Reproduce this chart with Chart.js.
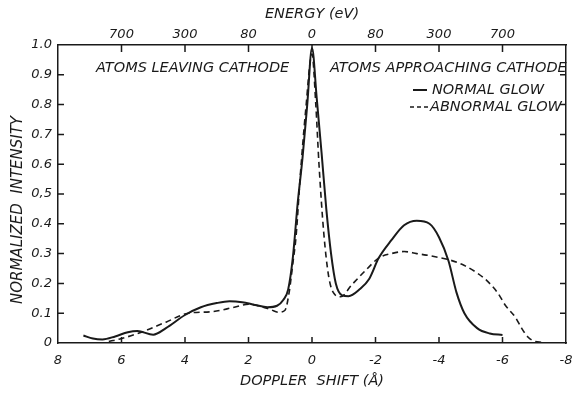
<!DOCTYPE html>
<html>
<head>
<meta charset="utf-8">
<script src="https://cdn.jsdelivr.net/npm/chart.js@4/dist/chart.umd.min.js"></script>
<style>
  html, body { margin: 0; padding: 0; background: #ffffff; }
  #wrap { width: 572px; height: 393px; }
</style>
</head>
<body>
<div id="wrap"><canvas id="chart" width="572" height="393"></canvas></div>
<script>
// Doppler shift (Angstrom) and normalized intensity
const normalShift = [7.2, 6.9, 6.6, 6.2, 5.8, 5.5, 5.0, 4.6, 4.0, 3.5, 3.0, 2.6, 2.2, 1.8, 1.4, 1.1, 0.9, 0.75, 0.6, 0.45, 0.3, 0.15, 0,
    -0.15, -0.3, -0.45, -0.6, -0.75, -0.95, -1.15, -1.5, -1.8, -2.1, -2.5, -2.9, -3.3, -3.7, -4.0, -4.3, -4.55, -4.8, -5.2, -5.6, -6.0];
const normalGlow = [0.025, 0.015, 0.012, 0.022, 0.036, 0.04, 0.028, 0.05, 0.094, 0.12, 0.134, 0.14, 0.137, 0.128, 0.12, 0.125, 0.145, 0.18, 0.29, 0.47, 0.62, 0.80, 0.99,
    0.82, 0.64, 0.45, 0.30, 0.20, 0.16, 0.157, 0.18, 0.215, 0.285, 0.345, 0.395, 0.41, 0.40, 0.355, 0.275, 0.17, 0.10, 0.05, 0.032, 0.027];

const abnormalShift = [6.4, 6.0, 5.35, 4.6, 3.9, 3.15, 2.45, 2.0, 1.66, 1.3, 1.05, 0.85, 0.72, 0.6, 0.5, 0.37, 0.2, 0,
    -0.12, -0.22, -0.37, -0.53, -0.7, -0.9, -1.25, -1.7, -2.1, -2.5, -2.9, -3.3, -3.6, -4.0, -4.3, -4.8, -5.2, -5.5, -5.85, -6.1, -6.4, -6.6, -6.8, -7.0, -7.25];
const abnormalGlow = [0.005, 0.015, 0.037, 0.07, 0.10, 0.105, 0.12, 0.13, 0.124, 0.112, 0.103, 0.11, 0.17, 0.27, 0.36, 0.56, 0.78, 0.97,
    0.80, 0.60, 0.37, 0.22, 0.165, 0.155, 0.195, 0.245, 0.285, 0.30, 0.307, 0.30, 0.295, 0.287, 0.28, 0.26, 0.235, 0.21, 0.168, 0.125, 0.087, 0.05, 0.02, 0.006, 0.002];

// axis ticks
const shiftTicks = [8, 6, 4, 2, 0, -2, -4, -6, -8];
const shiftLabels = ['8', '6', '4', '2', '0', '-2', '-4', '-6', '-8'];
const energyTicks = [6, 4, 2, 0, -2, -4, -6];
const energyLabels = ['700', '300', '80', '0', '80', '300', '700'];
const yTicks = [0, 0.1, 0.2, 0.3, 0.4, 0.5, 0.6, 0.7, 0.8, 0.9, 1.0];
const yLabels = ['0', '0.1', '0.2', '0.3', '0.4', '0,5', '0.6', '0.7', '0.8', '0.9', '1.0'];

const ink = '#1a1a1a';
const fam = '"DejaVu Sans", sans-serif';
const tickFont = { family: fam, size: 13, style: 'italic' };
const titleFont = { family: fam, size: 14.5, style: 'italic' };

function toPoints(xs, ys) {
    return xs.map((x, i) => ({ x: x, y: ys[i] }));
}

// no extra room for the end labels of the horizontal axes
function noSidePadding(s) {
    s.paddingLeft = 0;
    s.paddingRight = 0;
}

// small tick marks pointing into the plot on all four sides
const insideTicks = {
    id: 'insideTicks',
    afterDatasetsDraw(chart) {
        const { ctx, chartArea: a, scales } = chart;
        ctx.save();
        ctx.strokeStyle = ink;
        ctx.lineWidth = 1.5;
        ctx.beginPath();
        yTicks.slice(1, -1).forEach(v => {
            const py = scales.y.getPixelForValue(v);
            ctx.moveTo(a.left, py); ctx.lineTo(a.left + 6, py);
            ctx.moveTo(a.right, py); ctx.lineTo(a.right - 6, py);
        });
        shiftTicks.slice(1, -1).forEach(v => {
            const px = scales.x.getPixelForValue(v);
            ctx.moveTo(px, a.bottom); ctx.lineTo(px, a.bottom - 6);
        });
        energyTicks.forEach(v => {
            const px = scales.x2.getPixelForValue(v);
            ctx.moveTo(px, a.top); ctx.lineTo(px, a.top + 7);
        });
        ctx.stroke();
        ctx.restore();
    }
};

// region labels, legend and the y title
const notes = {
    id: 'notes',
    afterDraw(chart) {
        const { ctx } = chart;
        ctx.save();
        ctx.fillStyle = ink;
        ctx.font = 'italic 14.5px ' + fam;
        ctx.textBaseline = 'middle';
        ctx.textAlign = 'left';
        ctx.fillText('ATOMS LEAVING CATHODE', 96, 68);
        ctx.fillText('ATOMS APPROACHING CATHODE', 330, 68);
        ctx.fillText('NORMAL GLOW', 432, 90);
        ctx.fillText('ABNORMAL GLOW', 430, 107);

        ctx.strokeStyle = ink;
        ctx.lineWidth = 2;
        ctx.beginPath();
        ctx.moveTo(413, 90); ctx.lineTo(427, 90);
        ctx.stroke();
        ctx.lineWidth = 1.5;
        ctx.setLineDash([4, 3]);
        ctx.beginPath();
        ctx.moveTo(410, 107); ctx.lineTo(428, 107);
        ctx.stroke();
        ctx.setLineDash([]);

        ctx.font = 'italic 15px ' + fam;
        ctx.translate(18, 210);
        ctx.rotate(-Math.PI / 2);
        ctx.textAlign = 'center';
        ctx.fillText('NORMALIZED  INTENSITY', 0, 0);
        ctx.restore();
    }
};

const chart = new Chart(document.getElementById('chart').getContext('2d'), {
    type: 'scatter',
    data: {
        datasets: [{
            label: 'NORMAL GLOW',
            data: toPoints(normalShift, normalGlow),
            showLine: true,
            borderColor: ink,
            borderWidth: 2,
            pointRadius: 0,
            cubicInterpolationMode: 'monotone',
            xAxisID: 'x',
            yAxisID: 'y'
        }, {
            label: 'ABNORMAL GLOW',
            data: toPoints(abnormalShift, abnormalGlow),
            showLine: true,
            borderColor: ink,
            borderWidth: 1.6,
            borderDash: [6, 4],
            pointRadius: 0,
            cubicInterpolationMode: 'monotone',
            xAxisID: 'x',
            yAxisID: 'y'
        }]
    },
    options: {
        responsive: false,
        devicePixelRatio: 1,
        animation: false,
        layout: { padding: 0 },
        plugins: {
            legend: { display: false },
            tooltip: { enabled: false }
        },
        scales: {
            x: {
                type: 'linear',
                position: 'bottom',
                min: -8,
                max: 8,
                reverse: true,
                afterBuildTicks: s => { s.ticks = shiftTicks.map(v => ({ value: v })); },
                afterFit: s => { s.height = 50; noSidePadding(s); },
                grid: { display: false, drawTicks: false },
                border: { display: true, color: ink, width: 1.5 },
                ticks: {
                    callback: (v, i) => shiftLabels[i],
                    color: ink, font: tickFont, padding: 10,
                    autoSkip: false, maxRotation: 0
                },
                title: {
                    display: true, text: 'DOPPLER  SHIFT (Å)', color: ink,
                    font: titleFont, padding: { top: 0, bottom: 3 }
                }
            },
            x2: {
                type: 'linear',
                position: 'top',
                min: -8,
                max: 8,
                reverse: true,
                afterBuildTicks: s => { s.ticks = energyTicks.map(v => ({ value: v })); },
                afterFit: s => { s.height = 45; noSidePadding(s); },
                grid: { display: false, drawTicks: false },
                border: { display: true, color: ink, width: 1.5 },
                ticks: {
                    callback: (v, i) => energyLabels[i],
                    color: ink, font: tickFont, padding: 3,
                    autoSkip: false, maxRotation: 0
                },
                title: {
                    display: true, text: 'ENERGY (eV)', color: ink,
                    font: titleFont, padding: { top: 6, bottom: 0 }
                }
            },
            y: {
                type: 'linear',
                position: 'left',
                min: 0,
                max: 1,
                afterBuildTicks: s => { s.ticks = yTicks.map(v => ({ value: v })); },
                afterFit: s => { s.width = 58; },
                grid: { display: false, drawTicks: false },
                border: { display: true, color: ink, width: 1.5 },
                ticks: {
                    callback: (v, i) => yLabels[i],
                    color: ink, font: tickFont, padding: 6, autoSkip: false
                }
            },
            y2: {
                type: 'linear',
                position: 'right',
                min: 0,
                max: 1,
                afterFit: s => { s.width = 6; },
                grid: { display: false, drawTicks: false },
                border: { display: true, color: ink, width: 1.5 },
                ticks: { display: false }
            }
        }
    },
    plugins: [insideTicks, notes]
});
</script>
</body>
</html>
